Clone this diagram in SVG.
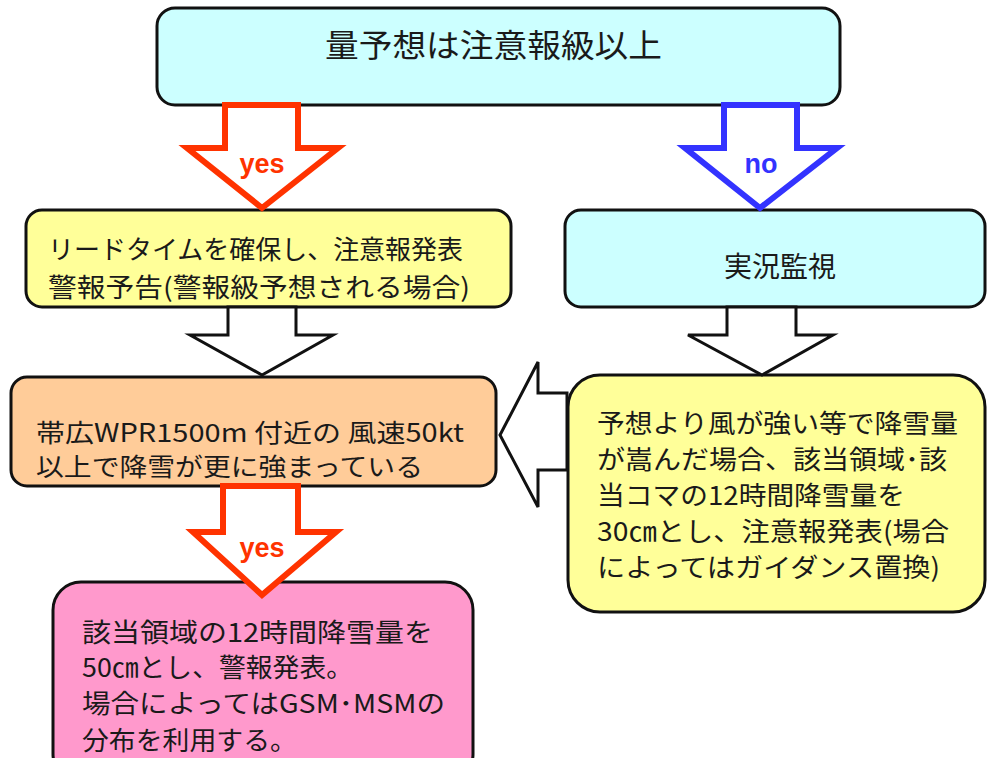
<svg xmlns="http://www.w3.org/2000/svg" width="988" height="758" viewBox="0 0 988 758">
<style>
.box{stroke:#111;stroke-width:3}
.t{font-family:"Noto Sans CJK JP","Noto Sans CJK SC",sans-serif;fill:#1a1a1a}
.lbl{font-family:"Liberation Sans",Arial,sans-serif;font-size:27px;font-weight:bold;text-anchor:middle}
.red{fill:#fff;stroke:#ff3300;stroke-width:6;stroke-linejoin:miter}
.blue{fill:#fff;stroke:#3333ff;stroke-width:6;stroke-linejoin:miter}
.wht{fill:#fff;stroke:#111;stroke-width:3;stroke-linejoin:miter}
</style>
<rect width="988" height="758" fill="#fff"/>
<g id="n-top">
<rect class="box" x="157" y="8" width="683" height="97" rx="18" fill="#ccffff"/>
<text class="t" x="325" y="57" font-size="32" textLength="337" lengthAdjust="spacingAndGlyphs">量予想は注意報級以上</text>
</g>
<g id="n-lead">
<rect class="box" x="26" y="210" width="485" height="97" rx="16" fill="#ffff99"/>
<text class="t" x="48" y="259" font-size="26" textLength="415" lengthAdjust="spacingAndGlyphs">リードタイムを確保し、注意報発表</text>
<text class="t" x="48" y="297" font-size="26" textLength="422" lengthAdjust="spacingAndGlyphs">警報予告(警報級予想される場合)</text>
</g>
<g id="n-watch">
<rect class="box" x="565" y="210" width="420" height="97" rx="16" fill="#ccffff"/>
<text class="t" x="780" y="277" font-size="28" text-anchor="middle">実況監視</text>
</g>
<g id="n-wpr">
<rect class="box" x="11" y="377" width="485" height="109" rx="16" fill="#ffcc99"/>
<text class="t" x="36" y="442" font-size="25" textLength="428" lengthAdjust="spacingAndGlyphs">帯広WPR1500m 付近の 風速50kt</text>
<text class="t" x="36" y="476" font-size="25" textLength="387" lengthAdjust="spacingAndGlyphs">以上で降雪が更に強まっている</text>
</g>
<g id="n-stronger">
<rect class="box" x="568" y="375" width="417" height="237" rx="32" fill="#ffff99"/>
<text class="t" x="597" y="433" font-size="26" textLength="361" lengthAdjust="spacingAndGlyphs">予想より風が強い等で降雪量</text>
<text class="t" x="597" y="469" font-size="26" textLength="350" lengthAdjust="spacingAndGlyphs">が嵩んだ場合、該当領域･該</text>
<text class="t" x="597" y="505" font-size="26" textLength="308" lengthAdjust="spacingAndGlyphs">当コマの12時間降雪量を</text>
<text class="t" x="597" y="541" font-size="26" textLength="352" lengthAdjust="spacingAndGlyphs">30㎝とし、注意報発表(場合</text>
<text class="t" x="597" y="577" font-size="26" textLength="343" lengthAdjust="spacingAndGlyphs">によってはガイダンス置換)</text>
</g>
<g id="n-warn">
<rect class="box" x="53" y="582" width="420" height="200" rx="28" fill="#ff99cc"/>
<text class="t" x="82" y="642" font-size="26" textLength="351" lengthAdjust="spacingAndGlyphs">該当領域の12時間降雪量を</text>
<text class="t" x="82" y="677" font-size="26" textLength="271" lengthAdjust="spacingAndGlyphs">50㎝とし、警報発表。</text>
<text class="t" x="82" y="713" font-size="26" textLength="363" lengthAdjust="spacingAndGlyphs">場合によってはGSM･MSMの</text>
<text class="t" x="82" y="750" font-size="26" textLength="215" lengthAdjust="spacingAndGlyphs">分布を利用する。</text>
</g>
<g id="connectors">
<polygon class="red" points="225,105 298,105 298,148 338,148 262,208 187,148 225,148"/>
<text class="lbl" x="262" y="173" fill="#ff3300">yes</text>
<polygon class="blue" points="724,105 797,105 797,148 837,148 760,208 685,148 724,148"/>
<text class="lbl" x="761" y="173" fill="#3333ff">no</text>
<polygon class="wht" points="228,307 296,307 296,335 333,335 262,375 190,335 228,335"/>
<polygon class="wht" points="727,307 796,307 796,335 833,335 762,375 688,335 727,335"/>
<polygon class="red" points="223,486 298,486 298,532 336,532 262,595 193,532 223,532"/>
<text class="lbl" x="262" y="557" fill="#ff3300">yes</text>
<polygon class="wht" points="567,393 538,393 538,362 500,435 538,507 538,470 567,470"/>
</g>
</svg>
